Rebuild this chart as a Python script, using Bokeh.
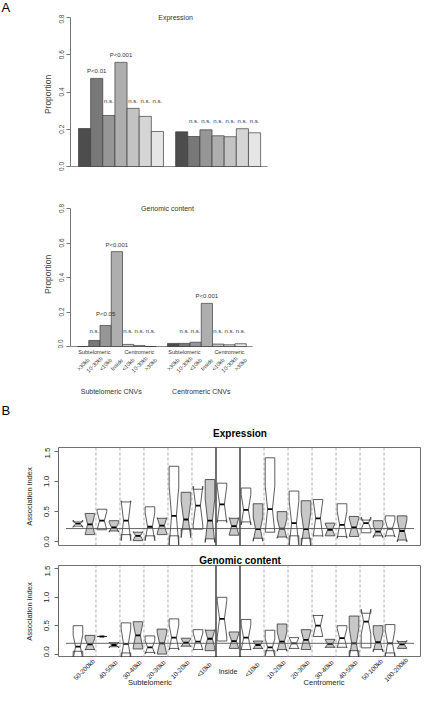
import math
from bokeh.plotting import figure
from bokeh.models import Range1d, FixedTicker, LinearAxis, PrintfTickFormatter
from bokeh.layouts import column
from bokeh.embed import file_html
from bokeh.resources import INLINE
from bokeh.core.properties import value

FONT = "Liberation Sans"
FIG_W = 421

# ---------------- Panel A data ----------------
bar_labels = [">30kb", "10-30kb", "<10kb", "Inside", "<10kb", "10-30kb", ">30kb"]
cnv_groups = ["Subtelomeric CNVs", "Centromeric CNVs"]
side_labels = ["Subtelomeric", "Centromeric"]
prop_ticks = [0.0, 0.2, 0.4, 0.6, 0.8]
bar_grays = ["#4D4D4D", "#787878", "#969696", "#AEAEAE", "#C3C3C3", "#D5D5D5", "#E6E6E6"]

expr_subtel = [0.204, 0.473, 0.274, 0.559, 0.312, 0.269, 0.188]
expr_centro = [0.186, 0.161, 0.197, 0.165, 0.160, 0.203, 0.181]
expr_sig_subtel = ["", "P<0.01", "n.s.", "P<0.001", "n.s.", "n.s.", "n.s."]
expr_sig_centro = ["", "n.s.", "n.s.", "n.s.", "n.s.", "n.s.", "n.s."]

geno_subtel = [0.0, 0.035, 0.122, 0.550, 0.012, 0.006, 0.0]
geno_centro = [0.018, 0.018, 0.025, 0.250, 0.014, 0.010, 0.016]
geno_sig_subtel = ["", "n.s.", "P<0.05", "P<0.001", "n.s.", "n.s.", "n.s."]
geno_sig_centro = ["", "n.s.", "n.s.", "P<0.001", "n.s.", "n.s.", "n.s."]

# ---------------- Panel B data ----------------
box_groups = ["50-200kb", "40-50kb", "30-40kb", "20-30kb", "10-20kb", "<10kb", "Inside",
              "<10kb", "10-20kb", "20-30kb", "30-40kb", "40-50kb", "50-100kb", "100-200kb"]
box_sides = ["Subtelomeric", "Centromeric"]
assoc_ticks = [0.0, 0.5, 1.0, 1.5]

expr_q1 = [0.26, 0.12, 0.20, 0.18, 0.12, 0.02, 0.10, 0.12, 0.10, 0.21, 0.21, 0.05, 0.35, 0.11,
           0.33, 0.06, 0.16, 0.08, 0.10, 0.06, 0.10, 0.10, 0.09, 0.09, 0.15, 0.10, 0.10, 0.03]
expr_med = [0.30, 0.29, 0.35, 0.24, 0.35, 0.10, 0.25, 0.27, 0.43, 0.37, 0.60, 0.35, 0.62, 0.26,
            0.53, 0.21, 0.54, 0.22, 0.31, 0.21, 0.39, 0.20, 0.28, 0.24, 0.31, 0.17, 0.22, 0.18]
expr_q3 = [0.33, 0.47, 0.54, 0.35, 0.66, 0.16, 0.58, 0.39, 1.25, 0.82, 0.87, 1.03, 0.97, 0.39,
           0.89, 0.63, 1.39, 0.50, 0.84, 0.68, 0.70, 0.31, 0.63, 0.42, 0.36, 0.35, 0.43, 0.43]
expr_notch = [0.06, 0.17, 0.15, 0.08, 0.33, 0.07, 0.23, 0.13, 0.48, 0.30, 0.32, 0.36, 0.30, 0.14,
              0.25, 0.20, 0.38, 0.16, 0.36, 0.28, 0.30, 0.10, 0.22, 0.15, 0.10, 0.10, 0.14, 0.18]
expr_overall = 0.22

geno_q1 = [0.05, 0.08, 0.31, 0.13, 0.02, 0.09, 0.03, 0.00, 0.10, 0.14, 0.08, 0.06, 0.23, 0.10,
           0.08, 0.10, 0.06, 0.08, 0.10, 0.08, 0.31, 0.12, 0.12, 0.06, 0.11, 0.08, 0.02, 0.10]
geno_med = [0.13, 0.17, 0.31, 0.16, 0.18, 0.33, 0.12, 0.19, 0.29, 0.20, 0.22, 0.27, 0.62, 0.23,
            0.29, 0.16, 0.12, 0.22, 0.19, 0.25, 0.50, 0.18, 0.28, 0.19, 0.57, 0.21, 0.19, 0.17]
geno_q3 = [0.50, 0.33, 0.31, 0.20, 0.55, 0.57, 0.32, 0.44, 0.62, 0.28, 0.43, 0.42, 1.00, 0.39,
           0.61, 0.23, 0.42, 0.53, 0.29, 0.43, 0.68, 0.26, 0.50, 0.67, 0.72, 0.50, 0.52, 0.22]
geno_notch = [0.21, 0.10, 0.0, 0.05, 0.26, 0.22, 0.12, 0.19, 0.22, 0.07, 0.15, 0.16, 0.32, 0.13,
              0.22, 0.07, 0.15, 0.17, 0.10, 0.16, 0.19, 0.07, 0.17, 0.27, 0.22, 0.17, 0.23, 0.07]
geno_overall = 0.19


# ---------------- helpers ----------------
def make_fig(fig_top, fig_h, frame, xr, yr):
    fl, fr, ft, fb = frame
    p = figure(width=FIG_W, height=fig_h, x_range=Range1d(*xr), y_range=Range1d(*yr),
               output_backend="svg", toolbar_location=None,
               x_axis_location=None, y_axis_location=None, frame_align=False,
               min_border_left=fl - 8, min_border_right=8 + FIG_W - fr,
               min_border_top=ft - fig_top, min_border_bottom=fig_top + fig_h - fb)
    p.outline_line_color = None
    p.grid.grid_line_color = None
    sx = (xr[1] - xr[0]) / (fr - fl)
    sy = (yr[1] - yr[0]) / (fb - ft)
    px = lambda X: xr[0] + (X - fl) * sx
    py = lambda Y: yr[0] + (fb - Y) * sy
    return p, px, py


def strip(fig_top, fig_h, left, right, px, py):
    bottom = fig_top + fig_h
    p, _, _ = make_fig(fig_top, fig_h, (left, right, fig_top, bottom),
                       (px(left), px(right)), (py(bottom), py(fig_top)))
    return p


def txt(p, x, y, text, size, color="#222222", align="center", style="normal", angle=0.0):
    p.text(x=x, y=y, text=text, text_font=value(FONT), text_font_size=size,
           text_align=align, text_baseline="middle", text_color=color,
           text_font_style=style, angle=angle)


def add_yaxis(p, ticks, label, tick_size, label_size, standoff, label_standoff, color, tcolor):
    ax = LinearAxis(ticker=FixedTicker(ticks=ticks), formatter=PrintfTickFormatter(format="%.1f"),
                    bounds=(ticks[0], ticks[-1]), axis_label=label, major_label_orientation="vertical",
                    major_tick_out=4, major_tick_in=0, minor_tick_out=0, minor_tick_in=0,
                    major_label_standoff=standoff, axis_label_standoff=label_standoff,
                    axis_label_text_font=FONT, axis_label_text_font_style="normal",
                    axis_label_text_font_size=label_size, axis_label_text_color=tcolor,
                    major_label_text_font=FONT, major_label_text_font_size=tick_size,
                    major_label_text_color=tcolor,
                    axis_line_color=color, major_tick_line_color=color)
    p.add_layout(ax, "left")


def sig_heights(vals, sigs):
    ns_level = max(max(v for v, s in zip(vals, sigs) if s == "n.s."), 0.05) + 0.04
    return [ns_level if s == "n.s." else max(v + 0.04, ns_level + 0.1) for v, s in zip(vals, sigs)]


def bar_panel(fig_top, fig_h, frame, slot0, pxu_x, zero, pxu_y, title, groups_vals, groups_sigs):
    fl, fr, ft, fb = frame
    xr = ((fl - slot0) / pxu_x, (fr - slot0) / pxu_x)
    yr = ((zero - fb) / pxu_y, (zero - ft) / pxu_y)
    p, px, py = make_fig(fig_top, fig_h, frame, xr, yr)
    n = len(bar_labels)
    n_slots = 2 * n + 1
    p.segment(x0=[xr[0]], x1=[n_slots + 0.57], y0=[0], y1=[0], line_color="#8a8a8a", line_width=1.2)
    for g, (vals, sigs) in enumerate(zip(groups_vals, groups_sigs)):
        left = [g * (n + 1) + j for j in range(n)]
        right = [l + 1 for l in left]
        p.quad(left=left, right=right, bottom=0, top=vals, fill_color=bar_grays,
               line_color="#3c3c3c", line_width=0.7)
        hy = sig_heights(vals, sigs)
        txt(p, [l + 0.5 for l, s in zip(left, sigs) if s], [h for h, s in zip(hy, sigs) if s],
            [s for s in sigs if s], "6px", "#333333")
    txt(p, [n + 1], [prop_ticks[-1]], [title], "7px", "#333333")
    add_yaxis(p, prop_ticks, "Proportion", "6.5px", "8.5px", 3, 3, "#777777", "#444444")
    return p, px, py


def bar_labels_strip(fig_top, fig_h, frame_l, frame_r, px, py):
    s = strip(fig_top, fig_h, frame_l, frame_r, px, py)
    n = len(bar_labels)
    for g in range(2):
        txt(s, [g * (n + 1) + 1.5, g * (n + 1) + 5.5], [py(359.5)] * 2, side_labels, "5.5px", "#333333")
        txt(s, [g * (n + 1) + j + 0.5 for j in range(n)], [py(372)] * n, bar_labels, "5.5px",
            "#333333", angle=math.pi / 4)
        txt(s, [g * (n + 1) + 3], [py(399)], [cnv_groups[g]], "7px", "#333333")
    return s


def notch_polys(q1, med, q3, notch, w=0.4, f=0.5):
    xs, ys = [], []
    for i, (a, m, b, h) in enumerate(zip(q1, med, q3, notch)):
        x = i + 1
        xs.append([x - w, x + w, x + w, x + w * f, x + w, x + w, x - w, x - w, x - w * f, x - w])
        ys.append([a, a, m - h, m, m + h, b, b, m + h, m, m - h])
    return xs, ys


def box_panel(fig_top, fig_h, frame, q1, med, q3, notch, overall):
    nb = len(q1)
    pad = 0.04 * nb
    xr = (0.5 - pad, nb + 0.5 + pad)
    span = assoc_ticks[-1] - assoc_ticks[0]
    yr = (assoc_ticks[0] - 0.04 * span, assoc_ticks[-1] + 0.04 * span)
    p, px, py = make_fig(fig_top, fig_h, frame, xr, yr)
    p.outline_line_color = "#707070"
    p.outline_line_width = 1
    ng = len(box_groups)
    inside = box_groups.index("Inside")
    seps = [2 * k + 0.5 for k in range(1, ng)]
    solid = [2 * inside + 0.5, 2 * inside + 2.5]
    dashed = [s for s in seps if s not in solid]
    p.segment(x0=dashed, x1=dashed, y0=yr[0], y1=yr[1], line_color="#9a9a9a",
              line_dash="3 2", line_width=0.8)
    p.segment(x0=solid, x1=solid, y0=yr[0], y1=yr[1], line_color="#111111", line_width=1.2)
    xs, ys = notch_polys(q1, med, q3, notch)
    fills = ["white" if i % 2 == 0 else "#C8C8C8" for i in range(nb)]
    p.patches(xs, ys, fill_color=fills, line_color="#333333", line_width=0.8)
    xm = [i + 1 for i in range(nb)]
    p.segment(x0=[x - 0.2 for x in xm], x1=[x + 0.2 for x in xm], y0=med, y1=med,
              line_color="black", line_width=1.8)
    p.segment(x0=[0], x1=[nb + 1], y0=[overall], y1=[overall], line_color="#555555", line_width=0.9)
    add_yaxis(p, assoc_ticks, "Association index", "8px", "7.5px", 5, 8, "#666666", "#222222")
    return p, px, py


# ---------------- build ----------------
a1, a1x, a1y = bar_panel(22, 168, (78, 429, 22, 182), 86, 12.14, 174, 186.25, "Expression",
                         [expr_subtel, expr_centro], [expr_sig_subtel, expr_sig_centro])
sA = strip(8, 14, 8, 429, a1x, a1y)
txt(sA, [a1x(9)], [a1y(15)], ["A"], "13px", "black", align="left")

a2, a2x, a2y = bar_panel(190, 166, (78, 429, 208, 356), 85, 11.25, 354, 172.5, "Genomic content",
                         [geno_subtel, geno_centro], [geno_sig_subtel, geno_sig_centro])
a2lab = bar_labels_strip(356, 54, 78, 429, a2x, a2y)

b1, b1x, b1y = box_panel(455, 103, (66, 429, 455, 553), expr_q1, expr_med, expr_q3, expr_notch,
                         expr_overall)
sB = strip(410, 45, 8, 429, b1x, b1y)
txt(sB, [b1x(9)], [b1y(418)], ["B"], "13px", "black", align="left")
txt(sB, [(b1x(66) + b1x(429)) / 2], [b1y(441)], ["Expression"], "10px", "black", style="bold")

b2, b2x, b2y = box_panel(573, 92, (66, 429, 573, 665), geno_q1, geno_med, geno_q3, geno_notch,
                         geno_overall)
sG = strip(558, 15, 66, 429, b2x, b2y)
txt(sG, [(b2x(66) + b2x(429)) / 2], [b2y(568)], ["Genomic content"], "10px", "black", style="bold")

b2lab = strip(665, 29, 66, 429, b2x, b2y)
ng = len(box_groups)
inside = box_groups.index("Inside")
rot_idx = [k for k in range(ng) if k != inside]
txt(b2lab, [2 * k + 1.5 for k in rot_idx], [b2y(677)] * len(rot_idx), [box_groups[k] for k in rot_idx],
    "6.5px", "#222222", angle=math.pi / 4)
txt(b2lab, [2 * inside + 1.5], [b2y(679)], [box_groups[inside]], "7px", "#222222")
side_x = [(1.5 + 2 * inside + 0.5) / 2, (2 * inside + 3 + 2 * ng) / 2]
txt(b2lab, side_x, [b2y(690)] * 2, box_sides, "7.5px", "#222222")

# heights: 14 + 168 + 166 + 54 + 45 + 103 + 15 + 92 + 29 = 686
layout = column(sA, a1, a2, a2lab, sB, b1, sG, b2, b2lab, spacing=0)
open("out.html", "w").write(file_html(layout, INLINE))
